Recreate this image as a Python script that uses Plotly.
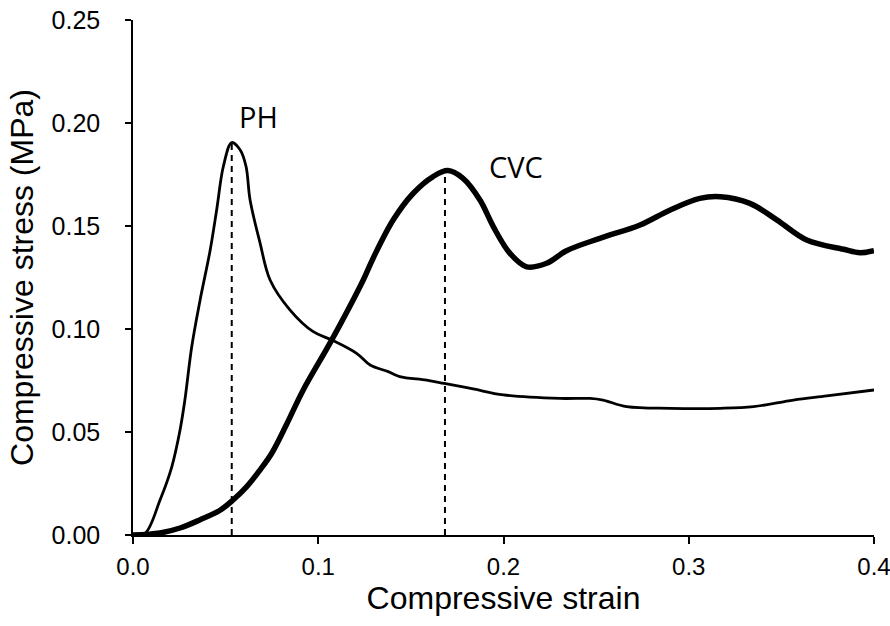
import plotly.graph_objects as go

# PH (thin curve)
ph_strain = [0.0, 0.0065, 0.0146, 0.0209, 0.0254, 0.028, 0.0317, 0.0362, 0.0416, 0.0452, 0.0488,
             0.0533, 0.0578, 0.061, 0.0632, 0.0686, 0.074, 0.0848, 0.0973, 0.1073, 0.1207, 0.128,
             0.1378, 0.144, 0.1585, 0.168, 0.1836, 0.2, 0.2305, 0.2467, 0.2537, 0.2665, 0.29,
             0.317, 0.335, 0.3565, 0.3745, 0.4]
ph_stress = [0.0, 0.0008, 0.017, 0.033, 0.051, 0.0655, 0.0914, 0.114, 0.138, 0.158, 0.179,
             0.1905, 0.187, 0.179, 0.1626, 0.1417, 0.1238, 0.1092, 0.0987, 0.0947, 0.0882, 0.0825,
             0.0793, 0.0769, 0.0752, 0.0736, 0.0709, 0.068, 0.0663, 0.0663, 0.0655, 0.0623, 0.0615,
             0.0615, 0.0623, 0.0655, 0.0675, 0.0704]

# CVC (thick curve)
cvc_strain = [0.0, 0.0146, 0.0254, 0.036, 0.047, 0.054, 0.0614, 0.0686, 0.0749, 0.083, 0.0919,
              0.1073, 0.1243, 0.1297, 0.1405, 0.1513, 0.162, 0.170, 0.178, 0.1873, 0.1945,
              0.2035, 0.2125, 0.2233, 0.234, 0.252, 0.2737, 0.29, 0.306, 0.317, 0.333, 0.3475,
              0.3637, 0.3835, 0.3925, 0.4]
cvc_stress = [0.0, 0.001, 0.0034, 0.0073, 0.012, 0.017, 0.0235, 0.0316, 0.0397, 0.0539, 0.0704,
              0.0947, 0.1238, 0.1345, 0.153, 0.1659, 0.174, 0.1769, 0.1732, 0.1626, 0.1497,
              0.1367, 0.1302, 0.1319, 0.138, 0.144, 0.1505, 0.1578, 0.1634, 0.1642, 0.161, 0.153,
              0.1432, 0.1387, 0.137, 0.138]

peak_strain = [0.0533, 0.1684]
peak_stress = [0.1905, 0.1765]
labels = ["PH", "CVC"]
label_pos = [(0.0675, 0.203), (0.207, 0.179)]

x_ticks = [0.0, 0.1, 0.2, 0.3, 0.4]
y_ticks = [0.0, 0.05, 0.10, 0.15, 0.20, 0.25]

fig = go.Figure()
for xs, ys in zip(peak_strain, peak_stress):
    fig.add_trace(go.Scatter(x=[xs, xs], y=[0, ys], mode="lines",
                             line=dict(color="black", width=2, dash="6px,5px"),
                             showlegend=False, hoverinfo="skip"))
fig.add_trace(go.Scatter(x=ph_strain, y=ph_stress, mode="lines", line_shape="spline",
                         line=dict(color="black", width=2.8), showlegend=False))
fig.add_trace(go.Scatter(x=cvc_strain, y=cvc_stress, mode="lines", line_shape="spline",
                         line=dict(color="black", width=5.5), showlegend=False))

for lab, (lx, ly) in zip(labels, label_pos):
    fig.add_annotation(x=lx, y=ly, text=lab, showarrow=False,
                       font=dict(family="Open Sans, Liberation Sans", size=29, color="black"))

fig.update_layout(
    width=890, height=626,
    margin=dict(l=133, r=16, t=20, b=91),
    paper_bgcolor="white", plot_bgcolor="white",
    font=dict(family="Liberation Sans, Arial", color="black"),
)
fig.update_xaxes(range=[0, 0.4], tickvals=x_ticks, ticktext=[f"{v:.1f}" for v in x_ticks],
                 showgrid=False, zeroline=False, showline=True, linecolor="black", linewidth=2,
                 ticks="outside", ticklen=7, tickwidth=1.5, tickcolor="black",
                 ticklabelstandoff=2, ticklabeloverflow="allow", automargin=False,
                 tickfont=dict(family="Liberation Sans Narrow, Liberation Sans", size=24),
                 title=dict(text="Compressive strain", font=dict(size=32), standoff=2))
fig.update_yaxes(range=[0, 0.25], tickvals=y_ticks, ticktext=[f"{v:.2f}" for v in y_ticks],
                 showgrid=False, zeroline=False, showline=True, linecolor="black", linewidth=1.5,
                 ticks="outside", ticklen=6, tickwidth=1.5, tickcolor="black",
                 ticklabelstandoff=20, automargin=False,
                 tickfont=dict(size=25),
                 title=dict(text="Compressive stress (MPa)", font=dict(size=32), standoff=8))

fig.write_html("out.html")
